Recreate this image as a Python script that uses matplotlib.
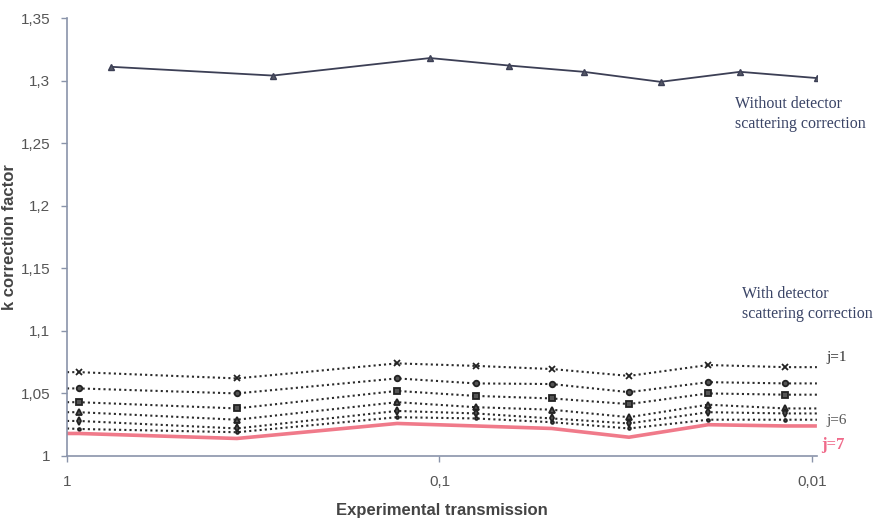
import matplotlib
matplotlib.use("Agg")
import matplotlib.pyplot as plt
import matplotlib.transforms as mtransforms
from matplotlib.ticker import FixedLocator, NullLocator

# ---- data ----
x_top = [0.76, 0.28, 0.106, 0.065, 0.041, 0.0255, 0.0156, 0.0097]
k_top = [1.311, 1.304, 1.318, 1.312, 1.307, 1.299, 1.307, 1.302]

x_bot = [1.0, 0.93, 0.35, 0.13, 0.08, 0.05, 0.031, 0.019, 0.0118, 0.0097]
k_j1 = [1.067, 1.067, 1.062, 1.074, 1.072, 1.0695, 1.064, 1.0727, 1.071, 1.071]
k_j2 = [1.054, 1.054, 1.050, 1.062, 1.058, 1.0575, 1.051, 1.059, 1.058, 1.058]
k_j3 = [1.043, 1.043, 1.038, 1.052, 1.048, 1.046, 1.0415, 1.050, 1.049, 1.049]
k_j4 = [1.035, 1.035, 1.029, 1.043, 1.039, 1.037, 1.031, 1.041, 1.038, 1.038]
k_j5 = [1.028, 1.028, 1.022, 1.036, 1.034, 1.030, 1.026, 1.035, 1.034, 1.034]
k_j6 = [1.022, 1.0216, 1.019, 1.031, 1.030, 1.027, 1.022, 1.029, 1.029, 1.029]
k_j7 = [1.018, 1.018, 1.014, 1.026, 1.024, 1.022, 1.015, 1.025, 1.024, 1.024]

y_ticks = [1.0, 1.05, 1.1, 1.15, 1.2, 1.25, 1.3, 1.35]
y_ticklabels = ["1", "1,05", "1,1", "1,15", "1,2", "1,25", "1,3", "1,35"]
x_ticks = [1, 0.1, 0.01]
x_ticklabels = ["1", "0,1", "0,01"]

# ---- figure ----
fig = plt.figure(figsize=(8.75, 5.19), dpi=100)
ax = fig.add_axes([0.0766, 0.1214, 0.857, 0.8439])

ax.set_xscale("log")
ax.set_xlim(1.0, 0.0097)
ax.set_ylim(1.0, 1.35)

ax.plot(x_top, k_top, color="#3c3f55", lw=1.3, marker="^", ms=5,
        mfc="#555866", mec="#3c3f55")

series = [k_j1, k_j2, k_j3, k_j4, k_j5, k_j6]
markers = ["x", "o", "s", "^", "d", "."]
mevery = list(range(1, len(x_bot) - 1))
for k, m in zip(series, markers):
    ax.plot(x_bot, k, color="#2a2a2a", lw=1.5, ls=(0, (1, 1.5)),
            marker=m, ms=4, mew=1.3, mfc="#555555", mec="#222222",
            markevery=mevery)
ax.plot(x_bot, k_j7, color="#f07a8a", lw=2.6, solid_capstyle="butt")

# ---- axes styling ----
for s in ["top", "right"]:
    ax.spines[s].set_visible(False)
for s in ["left", "bottom"]:
    ax.spines[s].set_color("#8a94aa")
    ax.spines[s].set_linewidth(1.2)

sans = "Liberation Sans"
ax.yaxis.set_major_locator(FixedLocator(y_ticks))
ax.set_yticklabels(y_ticklabels, family=sans)
ax.xaxis.set_major_locator(FixedLocator(x_ticks))
ax.xaxis.set_minor_locator(NullLocator())
ax.set_xticklabels(x_ticklabels, family=sans)
ax.tick_params(axis="both", colors="#8a94aa", labelcolor="#555555",
               labelsize=11, length=4, width=1)
ax.tick_params(axis="y", pad=8)
ax.tick_params(axis="x", pad=10)

ax.set_xlabel("Experimental transmission", family=sans, fontsize=12,
              fontweight="bold", color="#444444")
ax.set_ylabel("k correction factor", family=sans, fontsize=12,
              fontweight="bold", color="#444444")
ax.xaxis.set_label_coords(0.5, -0.107)
ax.yaxis.set_label_coords(-0.067, 0.5)

# ---- annotations ----
serif = "Liberation Serif"
ax.text(0.0161, 1.2735, "Without detector\nscattering correction",
        family=serif, fontsize=11.5, color="#3a4466", ha="left", va="center",
        linespacing=1.35)
ax.text(0.0154, 1.1215, "With detector\nscattering correction",
        family=serif, fontsize=11.5, color="#3a4466", ha="left", va="center",
        linespacing=1.35)
blend = mtransforms.blended_transform_factory(ax.transAxes, ax.transData)
ax.text(1.012, 1.0785, "j=1", transform=blend, family=serif,
        fontsize=11, color="#333333", ha="left", va="center")
ax.text(1.012, 1.028, "j=6", transform=blend, family=serif,
        fontsize=11, color="#555555", ha="left", va="center")
ax.text(1.006, 1.009, "j=7", transform=blend, family=serif,
        fontsize=12, fontweight="bold", color="#f06a8a", ha="left",
        va="center")

fig.savefig("out.png", dpi=100)
